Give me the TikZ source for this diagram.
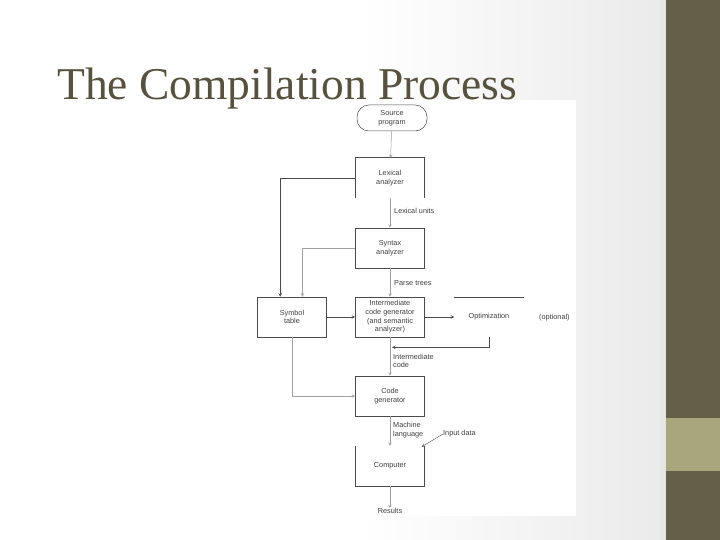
\documentclass[tikz,border=0pt]{standalone}
\usepackage{fontspec}
\setmainfont{Liberation Sans}
\newfontfamily\titlefont{Liberation Serif}
\usepackage{xcolor}
\usetikzlibrary{calc, positioning}

\definecolor{olive}{HTML}{655E48}
\definecolor{olivelight}{HTML}{A9A67E}
\definecolor{titlegray}{HTML}{57523F}
\definecolor{boxline}{HTML}{4A4A4A}
\definecolor{linegray}{HTML}{A0A0A0}

\tikzset{
  stepbox/.style={minimum width=69pt, minimum height=40pt, inner sep=1pt,
    align=center, font=\fontsize{7.3}{8.6}\selectfont, text=black!75},
  boxed/.style={stepbox, draw=boxline, line width=0.6pt},
  lbl/.style={anchor=west, align=left, inner sep=0pt,
    font=\fontsize{7.3}{8.6}\selectfont, text=black!75},
  flow/.style={->, draw=linegray, line width=0.5pt},
  side/.style={->, draw=boxline, line width=0.6pt}
}

\begin{document}
\begin{tikzpicture}[>=stealth, x=1pt, y=-1pt]

    % =================================================================
    % 1. NỀN TRANG CHIẾU
    % =================================================================
    \useasboundingbox (0,0) rectangle (720,540);
    \fill[white] (0,0) rectangle (360,540);
    \shade[left color=white, right color=black!8] (360,0) rectangle (660,540);
    \fill[black!10] (660,0) rectangle (666,540);
    \fill[olive] (666,0) rectangle (720,540);
    \fill[olivelight] (666,418) rectangle (720,471);

    % khung ảnh màu trắng
    \fill[white] (255,100) rectangle (576,516);

    % tiêu đề
    \node[anchor=base west, inner sep=0pt, text depth=0pt, text=titlegray,
          font=\titlefont\fontsize{45.5}{48}\selectfont] (title) at (57,100)
          {The Compilation Process};

    % =================================================================
    % 2. CÁC KHỐI CHÍNH
    % =================================================================
    \node[draw=boxline, line width=0.5pt, rounded corners=12pt,
          minimum width=70pt, minimum height=26pt, inner sep=1pt,
          align=center, font=\fontsize{7.3}{8.6}\selectfont, text=black!75]
          (src) at (392,118) {Source\\program};
    \node[stepbox] (lex) at (390,178) {Lexical\\analyzer};
    \node[boxed] (syn) at (390,248) {Syntax\\analyzer};
    \node[boxed] (icg) at (390,317) {Intermediate\\code generator\\(and semantic\\analyzer)};
    \node[stepbox] (opt) at (489,317) {Optimization};
    \node[boxed] (sym) at (292,317) {Symbol\\table};
    \node[boxed] (cg) at (390,396) {Code\\generator};
    \node[stepbox] (comp) at (390,466) {Computer};

    % cạnh khung còn thấy được
    \draw[boxline, line width=0.6pt] (lex.south west) -- (lex.north west)
        -- (lex.north east) -- (lex.south east);
    \draw[boxline, line width=0.6pt] (comp.north west) -- (comp.south west)
        -- (comp.south east) -- (comp.north east);
    \draw[boxline, line width=0.6pt] (opt.north west) -- (opt.north east);

    % nhãn ngoài
    \node[lbl, anchor=center] (res) at (390,511) {Results};
    \node[lbl] (optl) at (539,318) {(optional)};
    \node[lbl] (luL) at (394,211) {Lexical units};
    \node[lbl] (ptL) at (394,283) {Parse trees};
    \node[lbl] (icL) at (393,361) {Intermediate\\code};
    \node[lbl] (mlL) at (393,430) {Machine\\language};
    \node[lbl] (inp) at (443,434) {Input data};

    % =================================================================
    % 3. CÁC MŨI TÊN NỐI
    % =================================================================
    \draw[flow] (src) -- (lex);
    \draw[flow] (lex) -- (syn);
    \draw[flow] (syn) -- (icg);
    \draw[flow] (icg) -- (cg);
    \draw[flow] (cg) -- (comp);
    \draw[flow] (comp) -- (res);

    \draw[side] (lex.west) -| ($(sym.north west)!0.33!(sym.north east)$);
    \draw[side, draw=linegray] (syn.west) -| ($(sym.north west)!0.65!(sym.north east)$);
    \draw[side] (sym) -- (icg);
    \draw[side] (icg) -- (opt);
    \draw[side] (opt.south) |- ($(icg.south)+(2,10)$);
    \draw[side, draw=linegray] (sym.south) |- (cg.west);
    \draw[side, draw=boxline, line width=0.4pt] (inp.west) -- ($(comp.north east)+(-3,1)$);

\end{tikzpicture}
\end{document}
